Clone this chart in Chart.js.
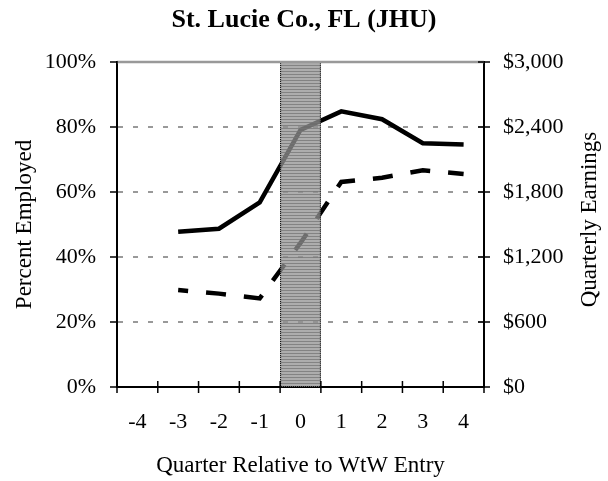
<!DOCTYPE html>
<html>
<head>
<meta charset="utf-8">
<title>St. Lucie Co., FL (JHU)</title>
<script src="https://cdn.jsdelivr.net/npm/chart.js@4.4.1/dist/chart.umd.min.js"></script>
<style>
  html, body { margin: 0; padding: 0; background: #fff; }
  #wrap { width: 608px; height: 481px; position: relative; }
</style>
</head>
<body>
<div id="wrap"><canvas id="chart"></canvas></div>
<script>
// values
const quarters = ['-4', '-3', '-2', '-1', '0', '1', '2', '3', '4'];
const pctEmployed = [null, 47.8, 48.7, 56.8, 79.1, 84.8, 82.4, 75.0, 74.6];
const earnings = [null, 895, 862, 818, 1330, 1893, 1932, 2000, 1966];
const wtwQuarter = '0';   // shaded entry quarter

const serif = "'Liberation Serif', 'Times New Roman', serif";

function line(ctx, x1, y1, x2, y2) {
  ctx.beginPath();
  ctx.moveTo(x1, y1);
  ctx.lineTo(x2, y2);
  ctx.stroke();
}

function stripes(ctx) {
  const c = document.createElement('canvas');
  c.width = 4; c.height = 3;
  const g = c.getContext('2d');
  g.fillStyle = 'rgba(146,146,146,0.75)';
  g.fillRect(0, 0, 4, 3);
  g.fillStyle = 'rgba(118,118,118,0.75)';
  g.fillRect(0, 2, 4, 1);
  return ctx.createPattern(c, 'repeat');
}

// shaded WtW quarter, tick marks, top rule and right axis title
const decor = {
  id: 'decor',
  afterDatasetsDraw(chart) {
    const { ctx, chartArea: a, scales: { x, y, y1 } } = chart;
    const step = (x.right - x.left) / quarters.length;
    const bx = x.getPixelForValue(quarters.indexOf(wtwQuarter)) - step / 2;
    ctx.save();
    ctx.fillStyle = stripes(ctx);
    ctx.fillRect(bx, a.top, step, a.bottom - a.top);
    ctx.setLineDash([1, 1]);
    ctx.strokeStyle = '#000';
    ctx.lineWidth = 1;
    ctx.strokeRect(bx + 0.5, a.top + 0.5, step - 1, a.bottom - a.top - 1);
    ctx.setLineDash([]);

    ctx.strokeStyle = '#999';
    ctx.lineWidth = 2.5;
    line(ctx, a.left, a.top, a.right, a.top);

    ctx.strokeStyle = '#000';
    ctx.lineWidth = 1.5;
    y.ticks.forEach(t => {
      const py = y.getPixelForValue(t.value);
      line(ctx, a.left - 7, py, a.left + 1, py);
    });
    y1.ticks.forEach(t => {
      const py = y1.getPixelForValue(t.value);
      line(ctx, a.right - 6, py, a.right + 6, py);
    });
    for (let k = 0; k <= quarters.length; k++) {
      const px = x.left + k * step;
      line(ctx, px, a.bottom - 6, px, a.bottom + 6);
    }

    ctx.fillStyle = '#000';
    ctx.font = `23px ${serif}`;
    ctx.textAlign = 'center';
    ctx.textBaseline = 'middle';
    ctx.translate(y1.right - 18, (a.top + a.bottom) / 2 - 5);
    ctx.rotate(-Math.PI / 2);
    ctx.fillText('Quarterly Earnings', 0, 0);
    ctx.restore();
  }
};

new Chart(document.getElementById('chart'), {
  type: 'line',
  data: {
    labels: quarters,
    datasets: [
      {
        label: 'Percent Employed',
        data: pctEmployed,
        yAxisID: 'y',
        borderColor: '#000',
        borderWidth: 4.5,
        pointRadius: 0,
        tension: 0,
        fill: false
      },
      {
        label: 'Quarterly Earnings',
        data: earnings,
        yAxisID: 'y1',
        borderColor: '#000',
        borderWidth: 4.5,
        borderDash: [20, 18],
        borderDashOffset: 10,
        pointRadius: 0,
        tension: 0,
        fill: false
      }
    ]
  },
  options: {
    responsive: true,
    maintainAspectRatio: false,
    animation: false,
    layout: { padding: 0 },
    plugins: {
      legend: { display: false },
      tooltip: { enabled: false },
      title: {
        display: true,
        text: 'St. Lucie Co., FL (JHU)',
        color: '#000',
        font: { family: serif, size: 26, weight: 'bold', lineHeight: 1.2 },
        padding: { top: 5, bottom: 25.8 }
      }
    },
    scales: {
      x: {
        offset: true,
        grid: { display: false, offset: true },
        border: { color: '#000', width: 2 },
        ticks: { color: '#000', font: { family: serif, size: 22 }, padding: 14, maxRotation: 0, autoSkip: false },
        title: {
          display: true,
          text: 'Quarter Relative to WtW Entry',
          color: '#000',
          font: { family: serif, size: 23 },
          padding: { top: 0, bottom: 1 }
        },
        afterFit: s => { s.height = 94; }
      },
      y: {
        position: 'left',
        min: 0,
        max: 100,
        ticks: { stepSize: 20, color: '#000', font: { family: serif, size: 22 }, padding: 21, callback: v => v + '%' },
        grid: {
          color: c => (c.tick && c.tick.value > 0 && c.tick.value < 100) ? '#999' : 'rgba(0,0,0,0)',
          lineWidth: 2,
          drawTicks: false,
          borderDash: [5, 10]
        },
        border: { color: '#000', width: 2, dash: [5, 10] },
        title: {
          display: true,
          text: 'Percent Employed',
          color: '#000',
          font: { family: serif, size: 23 },
          padding: { top: 11, bottom: 0 }
        },
        afterFit: s => { s.width = 117; }
      },
      y1: {
        position: 'right',
        min: 0,
        max: 3000,
        ticks: { stepSize: 600, color: '#000', font: { family: serif, size: 22 }, padding: 11, callback: v => '$' + v.toLocaleString('en-US') },
        grid: { display: false },
        border: { color: '#000', width: 2 },
        afterFit: s => { s.width = 124; }
      }
    }
  },
  plugins: [decor]
});
</script>
</body>
</html>
